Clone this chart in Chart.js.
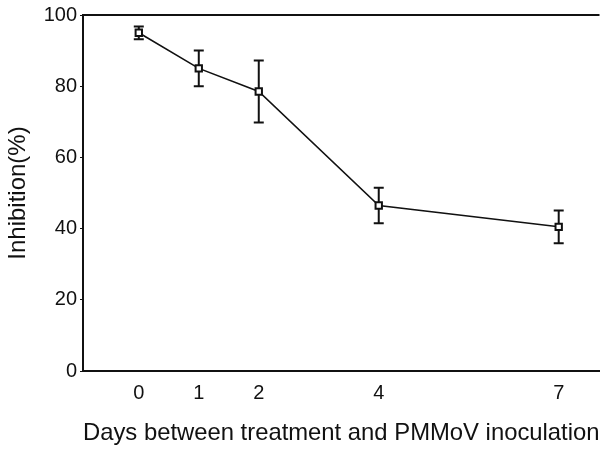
<!DOCTYPE html>
<html>
<head>
<meta charset="utf-8">
<script src="https://cdn.jsdelivr.net/npm/chart.js@4/dist/chart.umd.min.js"></script>
<style>
  html, body { margin: 0; padding: 0; background: #fff; }
  #wrap { width: 606px; height: 450px; }
</style>
</head>
<body>
<div id="wrap"><canvas id="inhibChart" width="606" height="450"></canvas></div>
<script>
// data
const days = [0, 1, 2, 4, 7];
const inhibition = [95, 85, 78.5, 46.5, 40.5];
const errors = [1.8, 5, 8.7, 5, 4.6];
const xTicks = [0, 1, 2, 4, 7];
const yTicks = [0, 20, 40, 60, 80, 100];

const FONT = "'Liberation Sans', Arial, sans-serif";

// error bars drawn under the markers, using the chart's own scales
const errorBars = {
  id: "errorBars",
  beforeDatasetsDraw(chart) {
    const ctx = chart.ctx;
    const y = chart.scales.y;
    const meta = chart.getDatasetMeta(0);
    ctx.save();
    ctx.strokeStyle = "#111";
    ctx.lineWidth = 2;
    meta.data.forEach((pt, i) => {
      const top = y.getPixelForValue(inhibition[i] + errors[i]);
      const bot = y.getPixelForValue(inhibition[i] - errors[i]);
      ctx.beginPath();
      ctx.moveTo(pt.x, top); ctx.lineTo(pt.x, bot);
      ctx.moveTo(pt.x - 5, top); ctx.lineTo(pt.x + 5, top);
      ctx.moveTo(pt.x - 5, bot); ctx.lineTo(pt.x + 5, bot);
      ctx.stroke();
    });
    ctx.restore();
  }
};

// top border of the frame (no right border in the original)
const topLine = {
  id: "topLine",
  afterDraw(chart) {
    const a = chart.chartArea;
    const ctx = chart.ctx;
    ctx.save();
    ctx.strokeStyle = "#111";
    ctx.lineWidth = 2;
    ctx.beginPath();
    ctx.moveTo(a.left, a.top);
    ctx.lineTo(a.right, a.top);
    ctx.stroke();
    ctx.restore();
  }
};

new Chart(document.getElementById("inhibChart"), {
  type: "line",
  data: {
    datasets: [{
      data: days.map((d, i) => ({ x: d, y: inhibition[i] })),
      borderColor: "#111",
      borderWidth: 1.6,
      tension: 0,
      pointStyle: "rect",
      pointRadius: 4.5,
      pointBorderWidth: 2,
      pointBorderColor: "#111",
      pointBackgroundColor: "#fff"
    }]
  },
  options: {
    responsive: false,
    animation: false,
    events: [],
    layout: { padding: { top: 13, right: 2, left: 0, bottom: 0 } },
    plugins: { legend: { display: false }, tooltip: { enabled: false } },
    scales: {
      x: {
        type: "linear",
        min: -0.93,
        max: 7.68,
        afterBuildTicks: s => { s.ticks = xTicks.map(v => ({ value: v })); },
        afterFit: s => { s.height = 79; },
        grid: { display: false, drawTicks: false },
        border: { color: "#111", width: 2 },
        ticks: { color: "#111", font: { family: FONT, size: 20 }, padding: 10, maxRotation: 0 },
        title: {
          display: true,
          text: "Days between treatment and PMMoV inoculation",
          color: "#111",
          font: { family: FONT, size: 24 },
          padding: { top: 0, bottom: 2 }
        }
      },
      y: {
        min: 0,
        max: 100,
        afterBuildTicks: s => { s.ticks = yTicks.map(v => ({ value: v })); },
        afterFit: s => { s.width = 83; },
        grid: { display: true, drawOnChartArea: false, tickLength: 3, color: "#111" },
        border: { color: "#111", width: 2 },
        ticks: { color: "#111", font: { family: FONT, size: 20 }, padding: 3 },
        title: {
          display: true,
          text: "Inhibition(%)",
          color: "#111",
          font: { family: FONT, size: 24 },
          padding: { top: 4, bottom: 4 }
        }
      }
    }
  },
  plugins: [errorBars, topLine]
});
</script>
</body>
</html>
